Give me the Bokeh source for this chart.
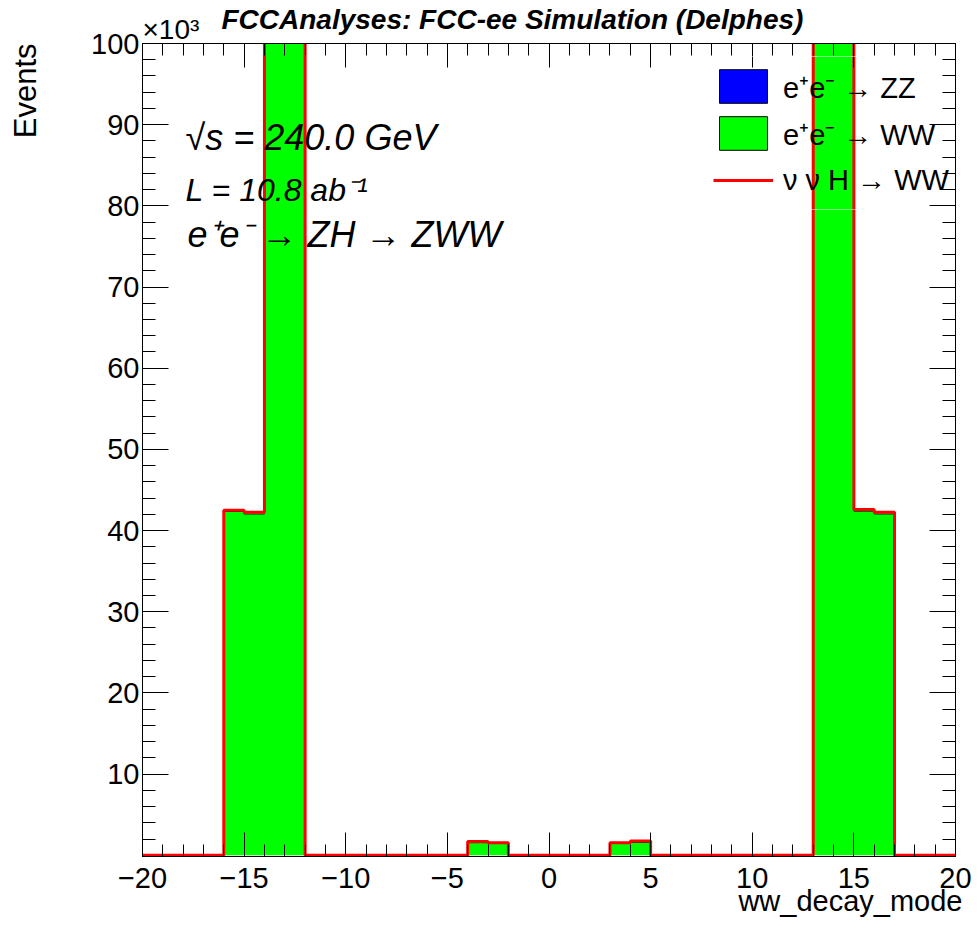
import math
from bokeh.plotting import figure
from bokeh.models import (Range1d, LinearAxis, FixedTicker, Label, Legend,
                          LegendItem, ColumnDataSource, Title)
from bokeh.core.properties import value
from bokeh.embed import file_html
from bokeh.resources import INLINE

# ---------------- data (events, in units of 10^3) ----------------
bin_edges = list(range(-20, 21))          # 40 bins of width 1, from -20 to 20

zz_events = [0, 0, 0, 0, 0, 0, 0, 0, 0, 0,
             0, 0, 0, 0, 0, 0, 0, 0, 0, 0,
             0, 0, 0, 0, 0, 0, 0, 0, 0, 0,
             0, 0, 0, 0, 0, 0, 0, 0, 0, 0]

ww_events = [0, 0, 0, 0, 42.35, 42.05, 168.0, 171.0, 0, 0,
             0, 0, 0, 0, 0, 0, 1.55, 1.45, 0, 0,
             0, 0, 0, 1.45, 1.6, 0, 0, 0, 0, 0,
             0, 0, 0, 172.0, 167.0, 42.4, 42.05, 0, 0, 0]

nunuh_events = [0, 0, 0, 0, 42.5, 42.25, 169.0, 172.0, 0, 0,
                0, 0, 0, 0, 0, 0, 1.7, 1.55, 0, 0,
                0, 0, 0, 1.55, 1.75, 0, 0, 0, 0, 0,
                0, 0, 0, 173.0, 168.0, 42.6, 42.25, 0, 0, 0]

x_major = [-20, -15, -10, -5, 0, 5, 10, 15, 20]
x_tick_labels = ["\u221220", "\u221215", "\u221210", "\u22125", "0", "5", "10", "15", "20"]
x_minor = list(range(-20, 21))
y_major = [10, 20, 30, 40, 50, 60, 70, 80, 90, 100]
y_tick_labels = ["10", "20", "30", "40", "50", "60", "70", "80", "90", "100"]
y_minor = list(range(2, 101, 2))

legend_labels = ["e\u207ae\u207b \u2192 ZZ", "e\u207ae\u207b \u2192 WW", "\u03bd \u03bd H \u2192 WW"]

Y_LO = -0.15
FONT = "Liberation Sans"

# ---------------- figure ----------------
p = figure(width=972, height=924, x_range=Range1d(-20, 20), y_range=Range1d(Y_LO, 100),
           output_backend="svg", toolbar_location=None,
           min_border_left=142, min_border_right=17, min_border_top=43, min_border_bottom=68)
p.title = None
p.xgrid.visible = False
p.ygrid.visible = False
p.outline_line_color = "black"
p.outline_line_width = 1
p.background_fill_color = "white"
p.border_fill_color = "white"

# stacked histogram: ZZ at the bottom, WW on top
ww_top = [z + w for z, w in zip(zz_events, ww_events)]
stack_src = ColumnDataSource(dict(x=bin_edges, zero=[0] * len(bin_edges),
                                  zz=zz_events + [zz_events[-1]],
                                  ww=ww_top + [ww_top[-1]]))
p.varea_step(x="x", y1="zero", y2="zz", source=stack_src, step_mode="after", fill_color="#0000ff")
p.varea_step(x="x", y1="zz", y2="ww", source=stack_src, step_mode="after", fill_color="#00ff00")
p.step(x="x", y="ww", source=stack_src, mode="after", line_color="black", line_width=1)

# bin boxes with black borders, used only for the legend swatches
bins_src = ColumnDataSource(dict(left=bin_edges[:-1], right=bin_edges[1:],
                                 zero=[0] * len(zz_events), zz_top=zz_events,
                                 ww_bot=zz_events, ww_top=ww_top))
r_zz_key = p.quad(left="left", right="right", bottom="zero", top="zz_top", source=bins_src,
                  fill_color="#0000ff", line_color="black", line_width=1, visible=False)
r_ww_key = p.quad(left="left", right="right", bottom="ww_bot", top="ww_top", source=bins_src,
                  fill_color="#00ff00", line_color="black", line_width=1, visible=False)

sig_src = ColumnDataSource(dict(x=bin_edges, y=nunuh_events + [nunuh_events[-1]]))
r_sig = p.step(x="x", y="y", source=sig_src, mode="after", line_color="#ff0000", line_width=3)

# ---------------- axes ----------------
def style_axis(ax, major, minor, labels, show):
    ax.ticker = FixedTicker(ticks=major, minor_ticks=minor)
    if show:
        ax.major_label_overrides = {t: l for t, l in zip(major, labels)}
    else:
        ax.major_label_overrides = {t: "" for t in major}
    ax.axis_line_color = "black"
    ax.major_tick_line_color = "black"
    ax.minor_tick_line_color = "black"
    ax.major_tick_out = 0
    ax.minor_tick_out = 0
    ax.major_label_text_font = FONT
    ax.major_label_text_color = "black"

xb = p.xaxis[0]
style_axis(xb, x_major, x_minor, x_tick_labels, True)
xb.major_tick_in = 24
xb.minor_tick_in = 12
xb.major_label_text_font_size = "29px"
xb.major_label_standoff = 11

yl = p.yaxis[0]
style_axis(yl, y_major, y_minor, y_tick_labels, True)
yl.major_tick_in = 26
yl.minor_tick_in = 13
yl.major_label_text_font_size = "29px"
yl.major_label_standoff = 3
# blank axis label: only keeps a gap between the tick labels and the "Events" title
yl.axis_label = " "
yl.axis_label_text_font_size = "1px"
yl.axis_label_standoff = 41

xt = LinearAxis()
style_axis(xt, x_major, x_minor, x_tick_labels, False)
xt.major_tick_in = 24
xt.minor_tick_in = 12
xt.major_label_text_font_size = "0px"
xt.major_label_standoff = 0
p.add_layout(xt, "above")

yr = LinearAxis()
style_axis(yr, y_major, y_minor, y_tick_labels, False)
yr.major_tick_in = 26
yr.minor_tick_in = 13
yr.major_label_text_font_size = "0px"
yr.major_label_standoff = 0
p.add_layout(yr, "right")

# ---------------- titles around the frame ----------------
def add_title(text, side, size, style="normal", align="left", offset=0, standoff=0, valign="bottom"):
    p.add_layout(Title(text=text, align=align, offset=offset, standoff=standoff,
                       vertical_align=valign, text_font=FONT, text_font_size=size,
                       text_font_style=style, text_color="black"), side)

add_title("\u00d710\u00b3", "above", "28px", standoff=-2)
add_title("FCCAnalyses: FCC-ee Simulation (Delphes)", "above", "28px",
          style="bold italic", offset=79, standoff=-44)
add_title("Events", "left", "31px", align="right", standoff=0)
add_title("ww_decay_mode", "below", "29px", align="right", offset=-7, standoff=-12, valign="top")

# ---------------- texts inside the frame ----------------
def add_label(text, xo, yo, size):
    p.add_layout(Label(x=-20, y=100, x_offset=xo, y_offset=yo, text=text,
                       text_font=FONT, text_font_size=size, text_font_style="italic",
                       text_align="left", text_baseline="alphabetic", text_color="black"))

add_label("\u221as = 240.0 GeV", 43, -94, "36px")
add_label("L = 10.8 ab\u207b\u00b9", 43, -146, "32px")
add_label("e\u207ae\u207b \u2192 ZH \u2192 ZWW", 45, -191, "36px")

# ---------------- legend ----------------
legend = Legend(items=[LegendItem(label=value(legend_labels[0]), renderers=[r_zz_key]),
                       LegendItem(label=value(legend_labels[1]), renderers=[r_ww_key]),
                       LegendItem(label=value(legend_labels[2]), renderers=[r_sig])],
                location=(562, 646), orientation="vertical",
                glyph_width=60, glyph_height=42, label_height=42, spacing=5,
                padding=8, margin=0, label_standoff=10,
                label_text_font=FONT, label_text_font_size="29px", label_text_color="black",
                background_fill_alpha=0, border_line_color="white", border_line_width=1)
p.add_layout(legend)

open("out.html", "w").write(file_html(p, INLINE))
